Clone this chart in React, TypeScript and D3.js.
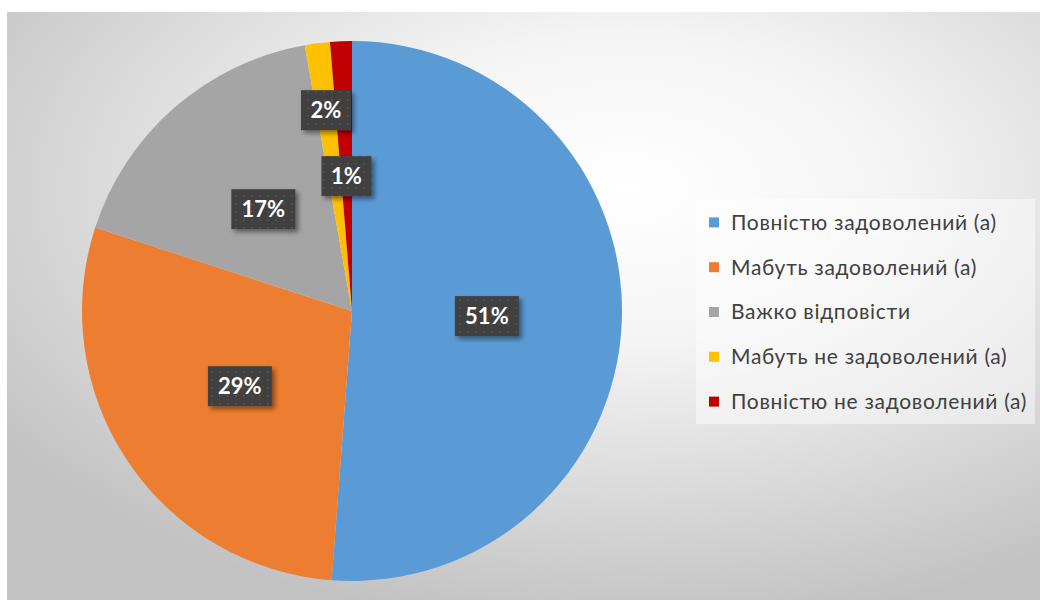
import React, { useMemo } from 'react';
import * as d3 from 'd3';

// Chart data
const categories = [
  'Повністю задоволений (а)',
  'Мабуть задоволений (а)',
  'Важко відповісти',
  'Мабуть не задоволений (а)',
  'Повністю не задоволений (а)',
];
const values = [51.2, 28.8, 17.2, 1.5, 1.3];
const labels = ['51%', '29%', '17%', '2%', '1%'];
const colors = ['#5B9BD5', '#ED7D31', '#A5A5A5', '#FFC000', '#C00000'];

// where each data label sits, as a fraction of the radius (Excel "best fit")
const labelRadius = [0.5, 0.5, 0.5, 0.75, 0.5];

const W = 1040;
const H = 600;
const FONT = "Lato, 'Open Sans', 'Noto Sans', sans-serif";

const App = () => {
  const cx = 352;
  const cy = 311;
  const r = 270;

  const arcs = useMemo(() => {
    const pie = d3.pie<number>().sort(null).value(d => d);
    return pie(values);
  }, []);

  const arcGen = d3.arc<d3.PieArcDatum<number>>().innerRadius(0).outerRadius(r);

  const legendY = d3.scaleBand<number>()
    .domain(d3.range(categories.length))
    .range([200, 424]);

  return (
    <div style={{ position: 'fixed', left: 0, top: 0, width: W, height: H, background: '#fff' }}>
      <svg width={W} height={H} style={{ display: 'block' }}>
        <defs>
          <radialGradient id="bg" cx="0.6" cy="0.3" r="0.75">
            <stop offset="0%" stopColor="#ffffff" />
            <stop offset="35%" stopColor="#f4f4f4" />
            <stop offset="100%" stopColor="#c2c2c2" />
          </radialGradient>
          <pattern id="dots" width="8" height="8" patternUnits="userSpaceOnUse">
            <rect width="8" height="8" fill="#404040" />
            <rect x="3" y="3" width="2" height="2" fill="#4f4f4f" />
          </pattern>
          <filter id="shadow" x="-30%" y="-30%" width="160%" height="160%">
            <feDropShadow dx="3" dy="3" stdDeviation="2.5" floodColor="#000" floodOpacity="0.45" />
          </filter>
        </defs>

        {/* chart area */}
        <rect x={7} y={12} width={W - 7} height={H - 12} fill="url(#bg)" />

        {/* slices */}
        <g transform={`translate(${cx},${cy})`}>
          {arcs.map((a, i) => (
            <path key={categories[i]} d={arcGen(a) || ''} fill={colors[i]} />
          ))}
        </g>

        {/* data labels */}
        {arcs.map((a, i) => {
          const mid = (a.startAngle + a.endAngle) / 2;
          const lr = r * labelRadius[i];
          const x = cx + Math.sin(mid) * lr;
          const y = cy - Math.cos(mid) * lr;
          const bw = labels[i].length === 3 ? 64 : 50;
          const bh = 40;
          return (
            <g key={labels[i]}>
              <rect x={x - bw / 2} y={y - bh / 2} width={bw} height={bh} fill="url(#dots)" filter="url(#shadow)" />
              <text
                x={x}
                y={y}
                dy="0.36em"
                textAnchor="middle"
                fill="#ffffff"
                fontFamily={FONT}
                fontWeight="700"
                fontSize="22"
              >
                {labels[i]}
              </text>
            </g>
          );
        })}

        {/* legend */}
        <rect x={696} y={199} width={339} height={225} fill="#ffffff" opacity="0.45" />
        {categories.map((c, i) => {
          const y = (legendY(i) || 0) + legendY.bandwidth() / 2;
          return (
            <g key={c}>
              <rect x={709} y={y - 5} width={10} height={10} fill={colors[i]} />
              <text x={731} y={y} dy="0.35em" fill="#404040" fontFamily={FONT} fontSize="21" letterSpacing="0.7">
                {c}
              </text>
            </g>
          );
        })}
      </svg>
    </div>
  );
};

export default App;
